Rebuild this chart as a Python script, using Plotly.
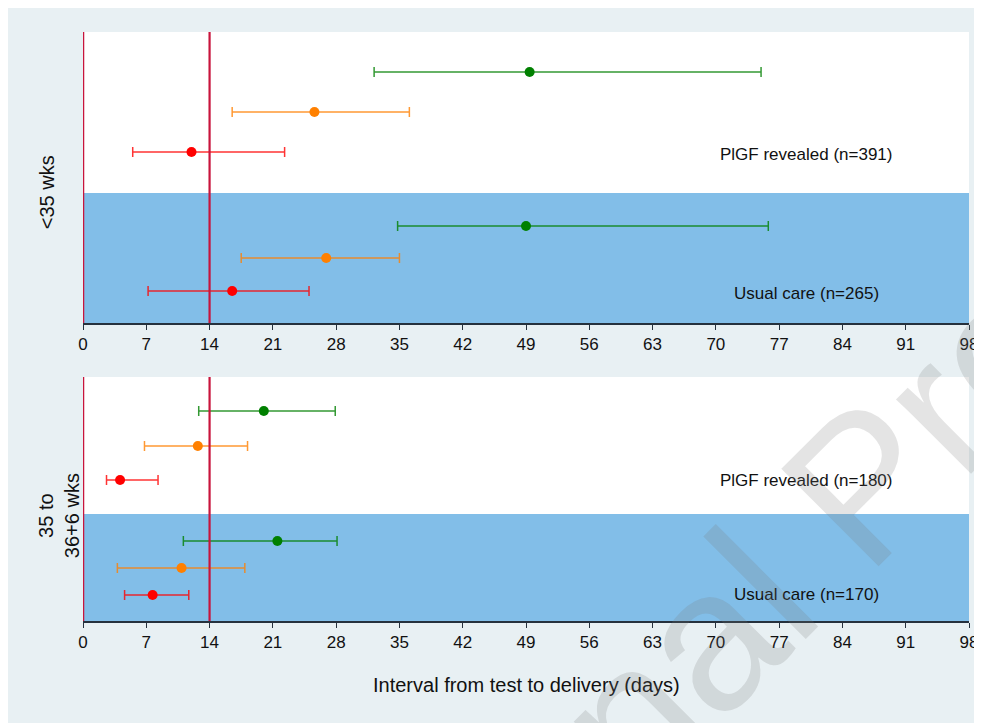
import plotly.graph_objects as go

# ---------------- data (days from test to delivery: median and range) ----------------
row_colors = ["#008000", "#ff8000", "#ff0000"]

# <35 weeks
top_rev_med = [49.4, 25.6, 12.0]
top_rev_lo = [32.2, 16.5, 5.5]
top_rev_hi = [75.0, 36.1, 22.3]
top_usual_med = [49.0, 26.9, 16.5]
top_usual_lo = [34.8, 17.5, 7.2]
top_usual_hi = [75.8, 35.0, 25.0]

# 35 to 36+6 weeks
bot_rev_med = [20.0, 12.7, 4.1]
bot_rev_lo = [12.8, 6.8, 2.6]
bot_rev_hi = [27.9, 18.2, 8.3]
bot_usual_med = [21.5, 10.9, 7.7]
bot_usual_lo = [11.1, 3.8, 4.6]
bot_usual_hi = [28.1, 17.9, 11.7]

top_labels = ["PlGF revealed (n=391)", "Usual care (n=265)"]
bot_labels = ["PlGF revealed (n=180)", "Usual care (n=170)"]
panel_titles = ["<35 wks", "35 to<br>36+6 wks"]
x_ticks = list(range(0, 99, 7))
threshold_day = 14

# ---------------- layout helpers (vertical positions inside each panel) ----------------
top_rev_y = [251, 211, 171]
top_usual_y = [97, 65, 32]
top_split, top_height = 130, 291
top_label_y = [169, 30]

bot_rev_y = [210, 175, 141]
bot_usual_y = [80, 53, 26]
bot_split, bot_height = 107, 244
bot_label_y = [140, 26]

label_x = 80

BG = "#e8f0f3"
BAND = "#82bee8"
CRIMSON = "#c8143c"
AXIS = "#25313d"
FONT = "Liberation Sans, Arial, sans-serif"


def rgba(hexc, a):
    h = hexc.lstrip("#")
    return "rgba(%d,%d,%d,%.2f)" % (int(h[0:2], 16), int(h[2:4], 16), int(h[4:6], 16), a)


fig = go.Figure()


def add_group(med, lo, hi, ys, xa, ya):
    for m, l, h, y, c in zip(med, lo, hi, ys, row_colors):
        fig.add_trace(go.Scatter(
            x=[m], y=[y], xaxis=xa, yaxis=ya, mode="markers",
            marker=dict(color=c, size=10, line=dict(width=0)),
            error_x=dict(type="data", symmetric=False, array=[h - m], arrayminus=[m - l],
                         color=rgba(c, 0.8), thickness=1.5, width=5),
            showlegend=False, hoverinfo="x"))


add_group(top_rev_med, top_rev_lo, top_rev_hi, top_rev_y, "x", "y")
add_group(top_usual_med, top_usual_lo, top_usual_hi, top_usual_y, "x", "y")
add_group(bot_rev_med, bot_rev_lo, bot_rev_hi, bot_rev_y, "x2", "y2")
add_group(bot_usual_med, bot_usual_lo, bot_usual_hi, bot_usual_y, "x2", "y2")

shapes = []
for xr, yr, split, height in [("x", "y", top_split, top_height), ("x2", "y2", bot_split, bot_height)]:
    shapes.append(dict(type="rect", xref=xr + " domain", yref=yr, x0=0, x1=1, y0=height, y1=split,
                       fillcolor="white", line=dict(width=0), layer="below"))
    shapes.append(dict(type="rect", xref=xr + " domain", yref=yr, x0=0, x1=1, y0=0, y1=split,
                       fillcolor=BAND, line=dict(width=0), layer="below"))
    for xv, w in [(0, 2.5), (threshold_day, 2.2)]:
        shapes.append(dict(type="line", xref=xr, yref=yr + " domain", x0=xv, x1=xv, y0=0, y1=1,
                           line=dict(color=CRIMSON, width=w), layer="above"))

annotations = []
for txt, yv in zip(top_labels, top_label_y):
    annotations.append(dict(x=label_x, y=yv, xref="x", yref="y", text=txt, showarrow=False,
                            xanchor="center", yanchor="middle",
                            font=dict(size=17, color="#111111", family=FONT)))
for txt, yv in zip(bot_labels, bot_label_y):
    annotations.append(dict(x=label_x, y=yv, xref="x2", yref="y2", text=txt, showarrow=False,
                            xanchor="center", yanchor="middle",
                            font=dict(size=17, color="#111111", family=FONT)))

annotations.append(dict(x=(47 - 83) / 892, y=(621 - 192) / 589, xref="paper", yref="paper",
                        text=panel_titles[0], textangle=-90, showarrow=False,
                        xanchor="center", yanchor="middle",
                        font=dict(size=20, color="#111111", family=FONT)))
annotations.append(dict(x=(59 - 83) / 892, y=(621 - 516) / 589, xref="paper", yref="paper",
                        text=panel_titles[1], textangle=-90, showarrow=False,
                        xanchor="center", yanchor="middle",
                        font=dict(size=20, color="#111111", family=FONT)))
annotations.append(dict(x=0.5, y=(621 - 685) / 589, xref="paper", yref="paper",
                        text="Interval from test to delivery (days)", showarrow=False,
                        xanchor="center", yanchor="middle",
                        font=dict(size=20, color="#111111", family=FONT)))
# watermark
annotations.append(dict(x=(866 - 83) / 892, y=(621 - 485) / 589, xref="paper", yref="paper",
                        text="Journal Pre-proof", textangle=-45, showarrow=False,
                        xanchor="center", yanchor="middle",
                        font=dict(size=200, color="rgba(120,120,120,0.2)", family=FONT)))

xaxis_common = dict(range=[0, 98], tickmode="array", tickvals=x_ticks,
                    ticktext=[str(t) for t in x_ticks], ticks="outside", ticklen=5,
                    tickwidth=1.2, tickcolor=AXIS, showline=True, linecolor=AXIS, linewidth=1.5,
                    showgrid=False, zeroline=False, ticklabeloverflow="allow",
                    tickfont=dict(size=17, color="#111111", family=FONT))

fig.update_layout(
    width=982, height=723,
    margin=dict(l=75, r=15, t=24, b=110),
    paper_bgcolor=BG, plot_bgcolor="rgba(0,0,0,0)",
    font=dict(family=FONT),
    xaxis=dict(domain=[0, 1], anchor="y", **xaxis_common),
    yaxis=dict(domain=[0.5059, 1.0], range=[0, top_height], visible=False),
    xaxis2=dict(domain=[0, 1], anchor="y2", **xaxis_common),
    yaxis2=dict(domain=[0.0, 0.4143], range=[0, bot_height], visible=False),
    shapes=shapes, annotations=annotations,
)

fig.write_html("out.html")
